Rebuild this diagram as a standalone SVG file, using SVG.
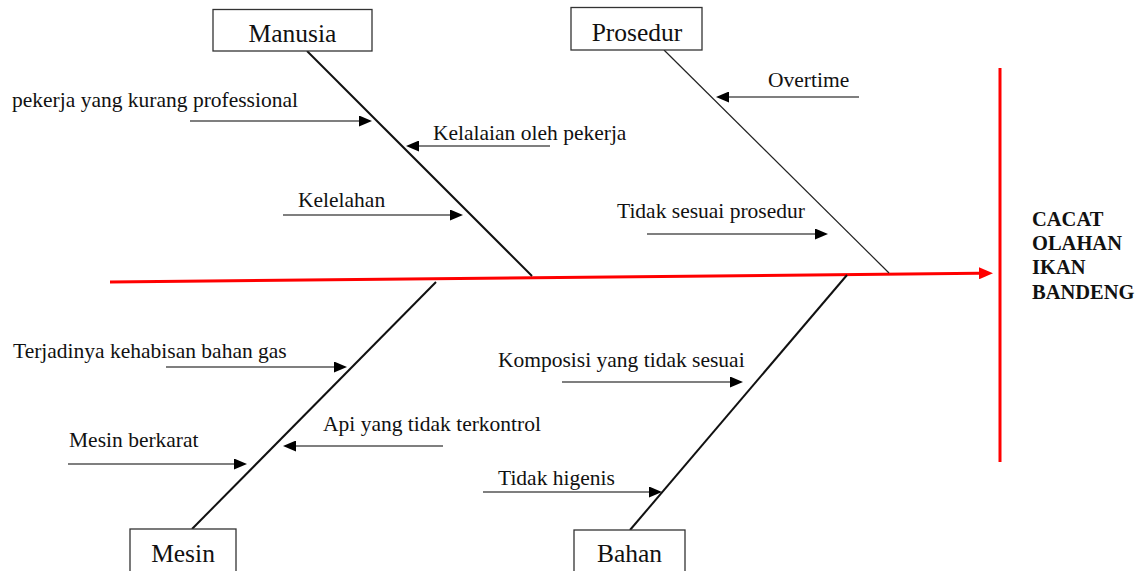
<svg xmlns="http://www.w3.org/2000/svg" width="1142" height="571" viewBox="0 0 1142 571" font-family="'Liberation Serif', 'Times New Roman', 'DejaVu Serif', serif">
<style>
text{font-family:'Liberation Serif','Times New Roman','DejaVu Serif',serif;fill:#111}
.lbl{font-size:21.5px}
.box{fill:#fff;stroke:#333;stroke-width:1.3}
.btx{font-size:25.5px;text-anchor:middle}
.bone{stroke:#111;stroke-width:2;fill:none}
.thin{stroke:#222;stroke-width:1.2;fill:none}
.arr{stroke:#555;stroke-width:1.3;fill:none;marker-end:url(#ah)}
.res{font-size:20.5px;font-weight:bold}
</style>
<defs>
<marker id="ah" markerUnits="userSpaceOnUse" markerWidth="13" markerHeight="11" refX="1" refY="5.5" orient="auto">
<path d="M0,0 L13,5.5 L0,11 z" fill="#000"/>
</marker>
<marker id="rh" markerUnits="userSpaceOnUse" markerWidth="14" markerHeight="12" refX="0" refY="6" orient="auto">
<path d="M0,0 L14,6 L0,12 z" fill="#f00"/>
</marker>
</defs>
<rect width="1142" height="571" fill="#fff"/>
<g id="connectors">
<line x1="110" y1="282" x2="979" y2="273.3" stroke="#f00" stroke-width="3" marker-end="url(#rh)"/>
<line x1="1000" y1="68" x2="1000" y2="462" stroke="#f00" stroke-width="3"/>
<line class="bone" x1="307" y1="51" x2="532" y2="276"/>
<line class="thin" x1="664" y1="50" x2="889" y2="273"/>
<line class="bone" x1="436" y1="282" x2="192" y2="529"/>
<line class="bone" x1="847" y1="275" x2="630" y2="530"/>
<line class="arr" x1="190" y1="121" x2="360" y2="121"/>
<line class="arr" x1="550" y1="146" x2="418" y2="146"/>
<line class="arr" x1="283" y1="215" x2="451" y2="215"/>
<line class="arr" x1="859" y1="97" x2="728" y2="97"/>
<line class="arr" x1="647" y1="234" x2="816" y2="234"/>
<line class="arr" x1="166" y1="367" x2="335" y2="367"/>
<line class="arr" x1="443" y1="446" x2="295" y2="446"/>
<line class="arr" x1="68" y1="464" x2="235" y2="464"/>
<line class="arr" x1="562" y1="382" x2="731" y2="382"/>
<line class="arr" x1="483" y1="492" x2="650" y2="492"/>
</g>
<g id="manusia">
<rect class="box" x="213" y="9.5" width="159" height="41.5"/>
<text class="btx" x="292.5" y="42">Manusia</text>
</g>
<g id="prosedur">
<rect class="box" x="571" y="7.5" width="131" height="42.5"/>
<text class="btx" x="637" y="41">Prosedur</text>
</g>
<g id="mesin">
<rect class="box" x="130" y="529" width="106" height="50"/>
<text class="btx" x="183" y="562">Mesin</text>
</g>
<g id="bahan">
<rect class="box" x="574" y="530" width="111" height="50"/>
<text class="btx" x="629.5" y="562">Bahan</text>
</g>
<g id="causes">
<text class="lbl" x="12" y="107">pekerja yang kurang professional</text>
<text class="lbl" x="433" y="140">Kelalaian oleh pekerja</text>
<text class="lbl" x="298" y="207">Kelelahan</text>
<text class="lbl" x="768" y="87">Overtime</text>
<text class="lbl" x="617" y="218">Tidak sesuai prosedur</text>
<text class="lbl" x="13" y="358">Terjadinya kehabisan bahan gas</text>
<text class="lbl" x="323" y="431">Api yang tidak terkontrol</text>
<text class="lbl" x="69" y="447">Mesin berkarat</text>
<text class="lbl" x="498" y="367">Komposisi yang tidak sesuai</text>
<text class="lbl" x="498" y="485">Tidak higenis</text>
</g>
<g id="effect">
<text class="res" x="1032" y="226">CACAT</text>
<text class="res" x="1032" y="250">OLAHAN</text>
<text class="res" x="1032" y="274">IKAN</text>
<text class="res" x="1032" y="299">BANDENG</text>
</g>
</svg>
